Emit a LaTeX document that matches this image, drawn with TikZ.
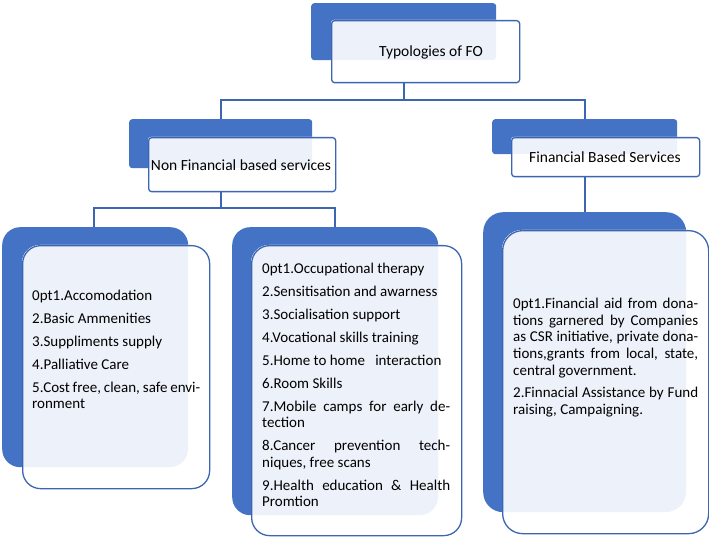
\documentclass[tikz,border=0pt]{standalone}
\usepackage{fontspec}
\setmainfont{Carlito}
\definecolor{backblue}{HTML}{4472C4}
\definecolor{lineblue}{HTML}{3C66B0}
\definecolor{paleblue}{HTML}{EDF1F9}
\tikzset{
  backbox/.style={fill=backblue, draw=none, anchor=north west, inner sep=0pt},
  frontbox/.style={draw=lineblue, line width=1.3pt, anchor=north west, inner sep=0pt},
  label/.style={font=\fontsize{15.5}{18}\selectfont, inner sep=0pt},
  listtext/.style={anchor=north west, inner sep=0pt, align=justify,
    font=\fontsize{15}{16.6}\selectfont\setlength{\parskip}{6.3pt}\hyphenpenalty=10000\exhyphenpenalty=10000},
  wire/.style={draw=lineblue, line width=1.6pt}
}
\begin{document}
\begin{tikzpicture}[x=1pt, y=-1pt]
\useasboundingbox (0,0) rectangle (709,537);
% boxes: back name / front name / back x,y,w,h / front x,y,w,h / radius
\foreach \bn/\fn/\bx/\by/\bw/\bh/\fx/\fy/\fw/\fh/\rad in {
  topback/topfront/311/3/185/57/331/20/188/62/3pt,
  nfback/nffront/129/119/183/49/148/137/187/54/3pt,
  fback/ffront/492/119/185/35/511/137/188/39/3pt,
  lback/lfront/2/227/186/240/22/245/187/243/18pt,
  mback/mfront/232/227/206/288/251/245/210/290/18pt,
  rback/rfront/483/212/203/300/502/230/206/303/20pt}{
  \node[backbox, rounded corners=\rad, minimum width=\bw pt, minimum height=\bh pt] (\bn) at (\bx,\by) {};
  \fill[white, rounded corners=\rad] (\fx,\fy) rectangle ++(\fw,\fh);
  \begin{scope}
    \clip[rounded corners=\rad] (\fx,\fy) rectangle ++(\fw,\fh);
    \fill[paleblue, rounded corners=\rad] (\bx,\by) rectangle ++(\bw,\bh);
  \end{scope}
  \node[frontbox, rounded corners=\rad, minimum width=\fw pt, minimum height=\fh pt] (\fn) at (\fx,\fy) {};
}
% titles
\node[label] (toplabel) at (431,52) {Typologies of FO};
\node[label] (nflabel) at (241,165) {Non Financial based services};
\node[label] (flabel) at (605,157) {Financial Based Services};
% connectors
\coordinate (lend) at (94,227);
\coordinate (mend) at (335,227);
\draw[wire] (topback.center |- topfront.south) -- ++(0,17) -| (nfback.north);
\draw[wire] (topback.center |- topfront.south) -- ++(0,17) -| (fback.north);
\draw[wire] (nfback.center |- nffront.south) -- ++(0,16) -| (lend);
\draw[wire] (nfback.center |- nffront.south) -- ++(0,16) -| (mend);
\draw[wire] (fback.center |- ffront.south) -- (rback.north);
% lists
\node[listtext, text width=168pt] (llist) at (32,290) {%
1.Accomodation\par 2.Basic Ammenities\par 3.Suppliments supply\par 4.Palliative Care\par
5.Cost free, clean, safe environment\par};
\node[listtext, text width=188pt] (mlist) at (262,263) {%
1.Occupational therapy\par 2.Sensitisation and awarness\par 3.Socialisation support\par
4.Vocational skills training\par 5.Home to home \ \ interaction\par 6.Room Skills\par
7.Mobile camps for early detection\par 8.Cancer prevention techniques, free scans\par
9.Health education \& Health Promtion\par};
\node[listtext, text width=185pt] (rlist) at (513,298) {%
1.Financial aid from donations garnered by Companies as CSR initiative, private donations,grants from local, state, central government.\par
2.Finnacial Assistance by Fund raising, Campaigning.\par};
\end{tikzpicture}
\end{document}
